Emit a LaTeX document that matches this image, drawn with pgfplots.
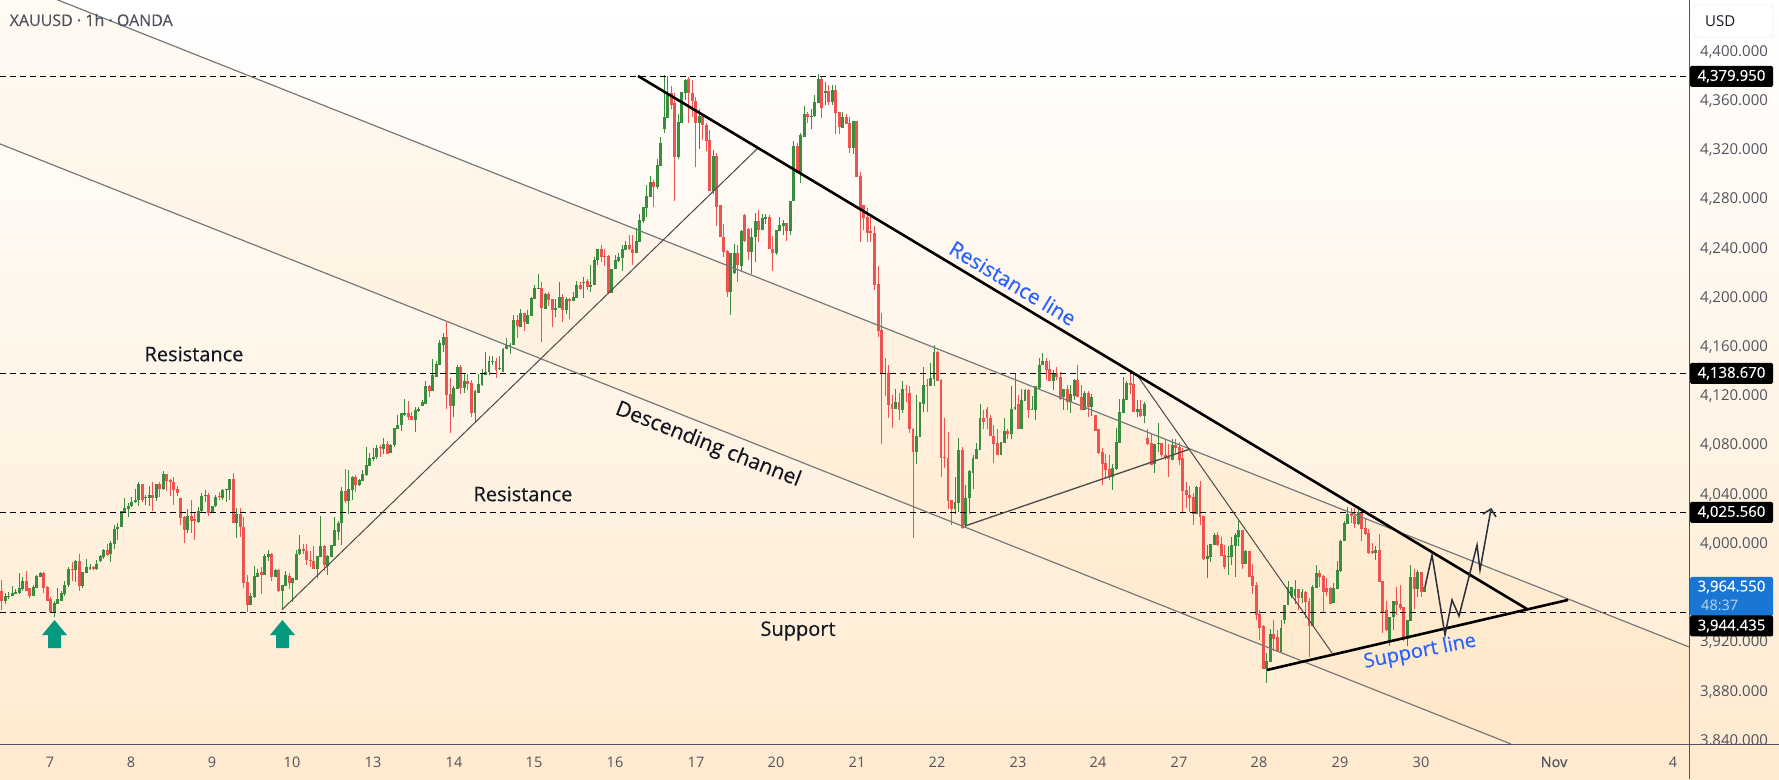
\documentclass[border=0pt]{standalone}
\usepackage{fontspec}
\setmainfont{Open Sans}
\newfontfamily\medfont[FakeBold=0.35]{Open Sans}
\usepackage{pgfplots}
\usepackage{pgfplotstable}
\pgfplotsset{compat=1.18}
\definecolor{cgreen}{HTML}{388E3C}
\definecolor{cred}{HTML}{EF5350}
\definecolor{axgray}{HTML}{50535E}
\definecolor{chgray}{HTML}{787878}
\definecolor{trgray}{HTML}{4A4A4A}
\definecolor{tvteal}{HTML}{089981}
\definecolor{tvblue}{HTML}{2962FF}
\definecolor{pxblue}{HTML}{1976D2}
\definecolor{ink}{HTML}{131722}
\definecolor{pen}{HTML}{2A2E39}
\definecolor{bgbot}{HTML}{FFEACF}
\definecolor{band}{HTML}{FFA726}
\newcommand{\fs}[1]{\fontsize{#1}{#1}\selectfont}
\pgfplotstableread{
x o c h l
1.3 3962 3954 3971 3946
5.3 3954 3958 3960 3951
8.7 3957 3958 3961 3955
12.3 3958 3960 3966 3958
15.7 3959 3961 3963 3959
19.3 3960 3964 3976 3959
22.7 3963 3970 3973 3962
26.3 3970 3962 3978 3962
29.7 3964 3958 3964 3956
33.3 3958 3965 3967 3958
36.7 3964 3974 3975 3964
40.3 3973 3976 3977 3973
43.7 3976 3964 3977 3960
47.3 3965 3954 3966 3954
50.7 3955 3945 3957 3944
54.3 3945 3952 3954 3941
57.7 3951 3955 3964 3951
61.3 3954 3960 3962 3954
64.7 3959 3967 3970 3958
68.3 3967 3980 3981 3965
72.3 3980 3979 3985 3970
75.3 3979 3986 3987 3969
79.3 3986 3966 3992 3962
82.3 3966 3977 3977 3964
86.3 3976 3981 3988 3976
90 3980 3981 3984 3979
93.3 3981 3980 3982 3979
96.7 3980 3984 3987 3979
100.3 3986 3990 3991 3985
103.7 3989 3995 3996 3988
107.3 3995 3991 4000 3990
110.7 3992 4001 4002 3985
114.3 4000 4012 4015 3996
117.7 4012 4014 4017 4003
121.3 4014 4027 4027 4014
124.7 4026 4029 4037 4026
128.3 4028 4031 4033 4022
131.7 4031 4034 4038 4030
135.3 4034 4036 4045 4033
138.3 4036 4049 4050 4031
142.3 4049 4036 4049 4034
145.7 4037 4038 4040 4032
149.3 4037 4040 4047 4031
152.7 4040 4037 4050 4027
156.3 4037 4049 4049 4035
159.7 4049 4045 4050 4038
163.3 4045 4057 4059 4044
166.7 4057 4051 4057 4043
170.3 4052 4050 4053 4039
173.7 4050 4044 4054 4032
177.3 4045 4041 4047 4039
180.7 4037 4021 4037 4015
184.3 4022 4011 4023 4001
187.7 4011 4023 4028 4009
191.3 4023 4019 4036 4009
194.7 4020 4019 4025 4003
198.3 4018 4027 4030 4017
201.7 4027 4039 4041 4026
205.3 4039 4040 4044 4034
208.7 4040 4025 4041 4023
212.3 4025 4031 4031 4025
215.7 4031 4038 4040 4030
219.3 4039 4038 4042 4036
222.7 4037 4044 4045 4036
226.3 4044 4045 4045 4034
229.7 4044 4053 4053 4036
233.3 4053 4017 4058 4017
236.7 4017 4024 4029 4005
240.3 4024 4014 4029 4006
243.7 4014 3968 4022 3964
247.3 3969 3950 3975 3945
250.7 3950 3958 3960 3950
254.3 3957 3974 3982 3956
257.7 3973 3976 3980 3973
261.3 3977 3975 3981 3959
264.7 3975 3990 3992 3975
268.3 3989 3992 3995 3986
271.7 3992 3973 3993 3970
275.3 3973 3979 3980 3973
278.7 3979 3962 3980 3961
282.3 3962 3967 3967 3947
285.7 3966 3975 3978 3966
289.3 3974 3968 3976 3963
292.7 3968 3972 3972 3953
296.3 3971 3992 3995 3971
299.7 3992 3996 4007 3991
303.3 3996 3994 4000 3992
306.7 3994 3987 4000 3983
310.3 3987 3986 3994 3981
313.7 3986 3980 3998 3980
317.3 3980 3990 3990 3972
320.7 3989 3998 4023 3989
324.3 3998 3983 3999 3978
327.7 3982 3990 3991 3975
331.3 3989 3999 3999 3989
334.7 3998 4011 4022 3998
338.3 4010 4017 4019 4003
341.7 4017 4043 4046 3999
345.3 4043 4035 4061 4033
348.7 4035 4045 4060 4024
352.3 4044 4054 4055 4036
355.7 4054 4048 4056 4042
359.3 4048 4052 4053 4047
362.7 4051 4057 4060 4051
366.3 4056 4064 4079 4055
369.7 4063 4070 4074 4063
373.3 4069 4071 4078 4067
376.7 4071 4078 4080 4069
380.3 4079 4078 4080 4071
383.7 4077 4081 4086 4073
387.3 4081 4073 4084 4073
390.7 4074 4080 4081 4074
394.3 4080 4094 4094 4079
397.7 4093 4097 4105 4093
401.3 4097 4106 4106 4092
404.7 4105 4106 4118 4104
408.3 4106 4103 4116 4101
411.7 4104 4101 4107 4101
415.3 4101 4109 4111 4091
418.7 4108 4110 4111 4107
422.3 4112 4115 4117 4112
425.7 4114 4128 4132 4114
429.3 4128 4124 4129 4119
432.7 4124 4137 4150 4124
436.3 4136 4146 4149 4136
439.7 4145 4163 4166 4145
443.3 4162 4168 4171 4156
446.7 4168 4121 4181 4110
450.3 4122 4112 4135 4090
453.7 4112 4127 4128 4103
457.3 4126 4144 4145 4126
460.7 4144 4127 4145 4122
464.3 4127 4132 4139 4123
467.7 4132 4130 4138 4125
471.3 4131 4106 4133 4103
475 4106 4124 4125 4098
478.3 4123 4130 4138 4123
482 4129 4138 4142 4128
485.3 4137 4140 4156 4137
489 4140 4149 4153 4137
492.3 4148 4149 4153 4145
496 4149 4141 4151 4135
499.3 4142 4143 4153 4141
503 4140 4158 4159 4140
506.7 4158 4162 4167 4158
510 4161 4162 4163 4154
513.3 4162 4182 4186 4162
517.3 4182 4177 4186 4167
520.7 4176 4188 4191 4176
524.3 4188 4180 4188 4173
527.7 4179 4186 4190 4179
531.3 4185 4200 4201 4185
534.7 4199 4208 4210 4199
538.3 4207 4208 4219 4207
541.7 4208 4192 4213 4164
545.3 4191 4203 4204 4191
548.7 4203 4198 4205 4193
552.3 4199 4190 4199 4176
555.7 4190 4192 4199 4184
559.3 4192 4201 4213 4192
562.7 4201 4190 4203 4180
566.3 4190 4199 4201 4187
569.7 4199 4197 4200 4183
573.3 4197 4201 4205 4197
576.3 4200 4210 4214 4200
580.3 4210 4207 4213 4206
583.3 4212 4213 4217 4200
587.3 4214 4209 4215 4206
590.3 4209 4210 4227 4205
594.3 4210 4231 4233 4210
597.7 4231 4240 4240 4227
601.3 4240 4233 4243 4229
604.7 4234 4233 4240 4226
608.3 4234 4204 4235 4203
611.7 4204 4223 4223 4204
615.3 4223 4231 4235 4223
618.3 4230 4233 4236 4229
622.3 4232 4240 4243 4222
625.3 4239 4243 4246 4239
629.3 4243 4240 4251 4239
632.3 4240 4236 4251 4227
636.3 4236 4246 4257 4236
639.3 4245 4263 4268 4245
643.3 4262 4274 4274 4261
646.3 4273 4283 4292 4266
650.3 4282 4294 4299 4282
653.3 4294 4290 4296 4274
657.3 4290 4308 4313 4288
660.3 4307 4326 4331 4307
664.3 4337 4347 4381 4334
667.7 4346 4366 4380 4346
671.3 4366 4357 4372 4353
674.3 4358 4314 4366 4279
678.3 4314 4343 4349 4313
681.3 4342 4367 4367 4342
685.3 4366 4377 4378 4361
688.3 4378 4366 4379 4342
692.3 4366 4360 4377 4347
695.3 4360 4342 4363 4306
699.3 4342 4348 4353 4321
702.3 4348 4340 4349 4328
706.3 4340 4327 4342 4319
709.3 4328 4287 4336 4287
713.3 4287 4315 4320 4284
716.3 4315 4274 4318 4258
720.3 4275 4249 4275 4249
723.3 4249 4237 4260 4233
727.3 4238 4205 4239 4201
730.3 4205 4236 4236 4186
734.3 4220 4236 4244 4219
737.3 4236 4227 4243 4213
741.3 4226 4254 4255 4221
744.3 4267 4246 4268 4245
748.3 4256 4237 4257 4231
751.3 4237 4249 4257 4219
755.3 4249 4262 4269 4229
758.3 4262 4255 4271 4245
762.3 4255 4265 4268 4255
765.3 4264 4266 4268 4260
769.3 4266 4240 4267 4240
772.3 4240 4236 4250 4222
776.3 4236 4255 4255 4235
779.3 4254 4259 4266 4254
783.3 4258 4261 4263 4251
786.3 4261 4254 4261 4246
790.3 4254 4279 4279 4251
793.3 4279 4323 4327 4279
797.3 4323 4301 4326 4301
800.3 4301 4332 4334 4293
804.3 4331 4349 4356 4331
807.3 4349 4347 4351 4342
811.3 4347 4348 4353 4337
814.3 4348 4359 4365 4347
818.3 4358 4378 4382 4358
821.3 4378 4354 4380 4346
825.3 4366 4368 4375 4357
828.3 4368 4359 4373 4357
832.3 4359 4369 4373 4357
835.3 4369 4350 4373 4333
839.3 4351 4339 4351 4333
842.3 4338 4347 4351 4338
846.3 4347 4341 4349 4341
849.3 4342 4322 4347 4318
853.3 4322 4344 4344 4317
856.3 4344 4298 4344 4298
860.3 4299 4271 4302 4245
863.3 4275 4265 4275 4255
867.3 4266 4253 4273 4245
870.3 4254 4253 4267 4245
874.3 4253 4210 4258 4206
878.3 4211 4173 4226 4168
881.3 4174 4138 4188 4081
885 4139 4138 4151 4120
888.3 4139 4113 4145 4102
892 4114 4110 4121 4094
895.3 4110 4115 4126 4110
899 4115 4109 4123 4101
902.3 4109 4126 4132 4106
906 4126 4125 4129 4115
909.3 4123 4093 4128 4090
913 4093 4075 4094 4005
916.3 4075 4088 4121 4065
920 4087 4115 4115 4087
923.3 4114 4129 4144 4107
927 4129 4128 4134 4107
930.3 4128 4135 4147 4128
934 4134 4156 4162 4128
937.3 4156 4132 4157 4132
941 4133 4070 4134 4054
944.3 4071 4070 4102 4062
948 4070 4035 4091 4028
951.3 4036 4028 4036 4015
955 4028 4034 4054 4024
958.7 4033 4076 4086 4026
962.3 4076 4013 4079 4012
965.7 4015 4037 4048 4014
969.3 4037 4059 4060 4024
973 4058 4070 4072 4045
976.7 4069 4077 4082 4069
980 4076 4102 4114 4076
983.3 4102 4099 4109 4093
987 4110 4102 4111 4093
990.3 4102 4088 4105 4088
993.7 4088 4081 4097 4066
997.3 4082 4072 4093 4072
1001 4072 4083 4083 4072
1004.3 4082 4092 4102 4082
1007.7 4092 4089 4093 4085
1011.3 4089 4110 4128 4085
1015 4110 4111 4139 4109
1018.3 4114 4093 4121 4093
1021.3 4093 4117 4126 4093
1025 4116 4125 4126 4116
1028.3 4125 4109 4126 4102
1032 4109 4110 4120 4109
1035.3 4109 4128 4128 4101
1039.3 4127 4145 4151 4126
1042.3 4145 4149 4155 4145
1046.3 4149 4141 4151 4133
1049.3 4142 4132 4149 4132
1053.3 4132 4138 4141 4125
1056.3 4139 4136 4144 4133
1060.3 4136 4118 4140 4117
1063.3 4119 4126 4126 4109
1067.3 4126 4115 4129 4109
1070.3 4115 4122 4129 4106
1074.3 4120 4133 4134 4117
1077.3 4133 4119 4145 4119
1081.3 4119 4109 4129 4109
1084.3 4109 4123 4124 4109
1088.3 4123 4111 4124 4103
1091.3 4111 4119 4122 4104
1095.3 4105 4092 4105 4092
1098.3 4093 4074 4093 4073
1102.3 4075 4065 4078 4048
1105.3 4066 4060 4073 4053
1109.3 4061 4054 4072 4052
1112.3 4054 4062 4065 4044
1116.3 4061 4083 4094 4060
1119.3 4082 4107 4118 4082
1123.3 4106 4118 4136 4106
1126.3 4117 4131 4132 4117
1130.3 4131 4129 4140 4122
1133.7 4130 4107 4139 4107
1137.3 4107 4110 4117 4103
1140.7 4110 4104 4117 4103
1144.3 4104 4114 4115 4098
1147.3 4086 4081 4093 4080
1151.3 4082 4064 4089 4064
1154.7 4065 4081 4081 4058
1158.3 4081 4082 4098 4075
1161.7 4082 4072 4082 4071
1165.3 4072 4070 4085 4068
1168.3 4071 4069 4081 4054
1172.3 4068 4080 4085 4068
1175.3 4080 4078 4085 4074
1179.3 4079 4068 4083 4064
1182.7 4070 4043 4078 4025
1186.3 4044 4040 4050 4029
1189.7 4040 4037 4047 4026
1193.3 4038 4024 4041 4015
1196.7 4024 4046 4047 4024
1200 4046 4022 4051 4015
1203.7 4023 3988 4023 3987
1207.3 3988 3990 3999 3972
1210.7 3989 4000 4000 3985
1214.3 3999 4007 4009 3999
1217.7 4007 3999 4010 3998
1221.3 4000 3990 4006 3990
1224.7 3991 3981 3999 3980
1228.3 3989 3990 3998 3975
1231.7 3989 3999 4006 3983
1235.3 3998 4007 4009 3973
1238.7 4006 4011 4019 3998
1242.3 4011 3984 4011 3980
1245.7 3984 3994 3995 3984
1249.3 3994 3973 3994 3973
1252.7 3974 3966 3984 3959
1256.3 3967 3942 3969 3938
1259.7 3943 3932 3946 3922
1263.3 3933 3898 3934 3898
1266.7 3898 3905 3911 3887
1270.3 3904 3927 3931 3904
1273.7 3927 3923 3938 3913
1277.3 3924 3913 3930 3912
1281 3912 3932 3938 3912
1284.3 3938 3950 3950 3935
1288 3950 3965 3970 3950
1291.3 3958 3965 3965 3956
1295 3958 3963 3971 3951
1298.3 3963 3956 3963 3946
1302 3956 3961 3963 3952
1305.3 3961 3953 3962 3940
1309 3954 3933 3956 3908
1312.7 3933 3965 3967 3933
1316.3 3964 3976 3983 3964
1319.7 3976 3973 3979 3965
1323.3 3974 3961 3975 3944
1326.7 3964 3961 3972 3958
1330.3 3964 3951 3965 3951
1333.7 3952 3964 3968 3952
1337.3 3963 3979 3986 3963
1340.7 3978 4002 4003 3977
1344.3 4002 4017 4019 4002
1347.7 4016 4024 4030 4016
1351.3 4024 4023 4029 4017
1354.7 4023 4016 4029 4013
1358.3 4016 4026 4031 4015
1361.7 4026 4012 4028 4002
1365.3 4013 4008 4020 4007
1368.7 4009 3993 4012 3992
1372.3 3994 3993 4001 3992
1375.7 3993 3995 3998 3987
1379.3 3995 3969 4008 3969
1382.7 3970 3945 3970 3928
1386.3 3946 3930 3954 3929
1389.7 3921 3941 3941 3917
1393.3 3941 3954 3954 3930
1396.7 3954 3950 3965 3942
1400.3 3951 3948 3967 3946
1403.7 3949 3922 3949 3921
1407.3 3923 3938 3938 3917
1410.7 3937 3973 3983 3937
1414.3 3973 3963 3980 3947
1417.7 3963 3977 3979 3957
1421.3 3977 3961 3977 3957
1424.7 3961 3965 3965 3961
}\candles
\begin{document}
\begin{tikzpicture}
\path[use as bounding box] (0,-35pt) rectangle (1779pt,744pt);
\shade[top color=white,bottom color=bgbot] (0,-35pt) rectangle (1779pt,744pt);
\begin{axis}[
  scale only axis, width=1689pt, height=744pt,
  xmin=0, xmax=1689, ymin=3837.45, ymax=4441.95,
  axis x line=bottom, axis y line=right,
  axis line style={draw=axgray,line width=1pt,-},
  major tick length=0pt,
  xtick={50,131,212,292,373,454,534,615,696,776,857,937,1018,1098,1179,1259,1340,1421,1554,1673},
  xticklabels={7,8,9,10,13,14,15,16,17,20,21,22,23,24,27,28,29,30,{\medfont Nov},4},
  ytick={3840,3880,3920,4000,4040,4080,4120,4160,4200,4240,4280,4320,4360,4400},
  scaled y ticks=false,
  y tick label style={/pgf/number format/fixed,/pgf/number format/fixed zerofill,/pgf/number format/precision=3,/pgf/number format/1000 sep={,},/pgf/number format/assume math mode=true},
  xticklabel style={font=\fs{14.5},text=axgray,anchor=center,yshift=-18pt,inner sep=0pt},
  yticklabel style={font=\fs{15},text=axgray,anchor=west,xshift=11pt,inner sep=0pt},
  candle/.style={draw=none,mark=none,forget plot},
]
% channel band
\addplot[fill=band,fill opacity=0.05,draw=none] coordinates {(0,4460.6) (1689,3916.3) (1689,3780.6) (0,4325)} --cycle;
% candles: wick then body
\addplot[candle,restrict expr to domain={\thisrow{c}-\thisrow{o}}{0:100000},
  error bars/.cd,y dir=plus,y explicit,error mark=none,error bar style={draw=cgreen,line width=1pt}]
  table[x=x,y=l,y error plus expr=\thisrow{h}-\thisrow{l}] {\candles};
\addplot[candle,restrict expr to domain={\thisrow{c}-\thisrow{o}}{-100000:0},
  error bars/.cd,y dir=plus,y explicit,error mark=none,error bar style={draw=cred,line width=1pt}]
  table[x=x,y=l,y error plus expr=\thisrow{h}-\thisrow{l}] {\candles};
\addplot[candle,restrict expr to domain={\thisrow{c}-\thisrow{o}}{0:100000},
  error bars/.cd,y dir=plus,y explicit,error mark=none,error bar style={draw=cgreen,line width=2.7pt}]
  table[x=x,y=o,y error plus expr=\thisrow{c}-\thisrow{o}] {\candles};
\addplot[candle,restrict expr to domain={\thisrow{c}-\thisrow{o}}{-100000:0},
  error bars/.cd,y dir=plus,y explicit,error mark=none,error bar style={draw=cred,line width=2.7pt}]
  table[x=x,y=c,y error plus expr=\thisrow{o}-\thisrow{c}] {\candles};
% horizontal levels
\addplot[black,line width=1pt,dash pattern=on 5.5pt off 4.5pt] coordinates {(0,4379.95) (1689,4379.95)};
\addplot[black,line width=1pt,dash pattern=on 5.5pt off 4.5pt] coordinates {(0,4138.67) (1689,4138.67)};
\addplot[black,line width=1pt,dash pattern=on 5.5pt off 4.5pt] coordinates {(0,4025.56) (1689,4025.56)};
\addplot[black,line width=1pt,dash pattern=on 5.5pt off 4.5pt] coordinates {(0,3944.435) (1689,3944.435)};
% channel lines
\addplot[chgray,line width=1.2pt] coordinates {(0,4460.6) (1689,3916.3)};
\addplot[chgray,line width=1.2pt] coordinates {(0,4325) (1511,3837.45)};
% trend lines
\addplot[trgray,line width=1pt] coordinates {(281.7,3946.3) (758,4321.7)};
\addplot[trgray,line width=1.3pt] coordinates {(965,4014.6) (1190,4077.1)};
\addplot[trgray,line width=1pt] coordinates {(1137,4137.3) (1332,3911.4)};
\addplot[black,line width=2.6pt] coordinates {(638,4380.2) (1527,3947.1)};
\addplot[black,line width=2.6pt] coordinates {(1267,3897.6) (1568,3954.5)};
% projected path
\addplot[pen,line width=1.5pt] coordinates {(1425,3965) (1432,3991) (1445,3926) (1452,3954.5) (1459,3941.4) (1477,3999.1) (1480,3978.8) (1491,4028.4)};
\addplot[pen,line width=1.5pt] coordinates {(1483,4024.3) (1491,4028.4) (1496,4021.9)};
% arrows
\addplot[fill=tvteal,draw=none] coordinates {(54.5,3938.2) (67,3926) (61,3926) (61,3915.4) (48,3915.4) (48,3926) (42,3926)} --cycle;
\addplot[fill=tvteal,draw=none] coordinates {(282.4,3938.2) (295,3926) (289,3926) (289,3915.4) (276,3915.4) (276,3926) (270,3926)} --cycle;
\end{axis}
\begin{scope}[shift={(0,744pt)},x=1pt,y=-1pt]
  % bottom and right extensions
  \fill[bgbot] (1690,744.5) rectangle (1779,779);
  \draw[axgray,line width=1pt] (1689,744) -- (1779,744);
  \draw[axgray,line width=1pt] (1689,744) -- (1689,779);
  % USD box
  \draw[draw=black!10,fill=white,rounded corners=3pt] (1694,5) rectangle (1773,37);
  \node[anchor=west,inner sep=0pt,text=ink,font=\fs{15}] at (1705,21) {USD};
  % price labels
  \tikzset{plab/.style={fill=black,text=white,minimum width=83pt,minimum height=21pt,inner sep=0pt,rounded corners=1.5pt,font=\medfont\fs{15}}}
  \node[plab] at (1731.5,76.3) {4,379.950};
  \node[plab] at (1731.5,373.3) {4,138.670};
  \node[plab] at (1731.5,512.3) {4,025.560};
  \fill[pxblue,rounded corners=1.5pt] (1690,577) rectangle (1773,616);
  \node[inner sep=0pt,text=white,font=\medfont\fs{15}] at (1731.5,587) {3,964.550};
  \node[anchor=west,inner sep=0pt,text=white!70!pxblue,font=\fs{14.5}] at (1701,605) {48:37};
  \node[plab] at (1731.5,626) {3,944.435};
  % chart title and notes
  \node[anchor=west,inner sep=0pt,text=axgray,font=\medfont\fs{16}] at (9.5,20) {XAUUSD · 1h · OANDA};
  \tikzset{note/.style={inner sep=0pt,text=ink,font=\medfont\fs{20}}}
  \node[note] at (194,354) {Resistance};
  \node[note] at (523,494) {Resistance};
  \node[note] at (798,631) {Support};
  \node[note,font=\medfont\fs{21},rotate=-21.6] at (708,445) {Descending channel};
  \node[note,font=\medfont\fs{20.8},text=tvblue,rotate=-31] at (1013,283) {Resistance line};
  \node[note,text=tvblue,rotate=11] at (1420,652) {Support line};
\end{scope}
\end{tikzpicture}
\end{document}
